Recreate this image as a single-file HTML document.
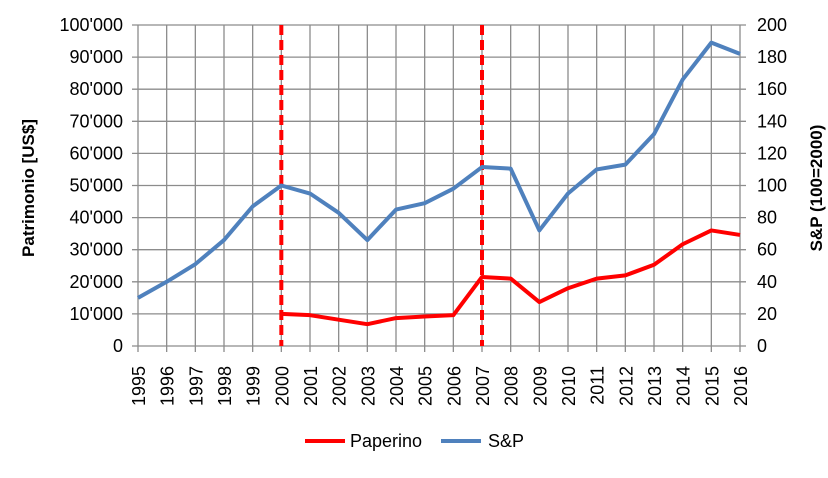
<!DOCTYPE html>
<html><head><meta charset="utf-8"><style>
body{margin:0;background:#fff;font-family:"Liberation Sans",Arial,sans-serif}
svg text{font-family:"Liberation Sans",Arial,sans-serif}
</style></head><body>
<svg id="c" width="828" height="473" xmlns="http://www.w3.org/2000/svg"></svg>
<script>
const years=[1995,1996,1997,1998,1999,2000,2001,2002,2003,2004,2005,2006,2007,2008,2009,2010,2011,2012,2013,2014,2015,2016];
const spValues=[30,40,51,66,87,100,95,83,66,85,89,98,111.5,110.5,72,95,110,113,132,166,189,182];
const paperinoValues=[null,null,null,null,null,10000,9600,8200,6800,8700,9200,9600,21500,21000,13700,18000,21000,22000,25300,31700,36000,34600];
const leftTicks=[0,10000,20000,30000,40000,50000,60000,70000,80000,90000,100000];
const leftTickLabels=["0","10'000","20'000","30'000","40'000","50'000","60'000","70'000","80'000","90'000","100'000"];
const rightTicks=[0,20,40,60,80,100,120,140,160,180,200];
const markerYears=[2000,2007];
const NS="http://www.w3.org/2000/svg";
const svg=document.getElementById('c');
const X0=138,X1=740,Y0=346,Y1=25;
const FS=18;
const x=i=>X0+(X1-X0)*i/(years.length-1);
const xy=yr=>x(years.indexOf(yr));
const yl=v=>Y0-(Y0-Y1)*v/100000;
const yr=v=>Y0-(Y0-Y1)*v/200;
function el(t,a,txt){const e=document.createElementNS(NS,t);for(const k in a)e.setAttribute(k,a[k]);if(txt!=null)e.textContent=txt;svg.appendChild(e);return e;}
leftTicks.forEach((v,i)=>{
 const g=el('line',{x1:X0-6,x2:X1+6,y1:yl(v),y2:yl(v),stroke:'#8c8c8c','stroke-width':1.3});
 
 
 const t=el('text',{x:X0-15,y:yl(v)+6,'text-anchor':'end','font-size':FS,fill:'#000'},leftTickLabels[i]);
 
 
});
rightTicks.forEach(v=>{
 const t=el('text',{x:X1+17,y:yr(v)+6,'text-anchor':'start','font-size':FS,fill:'#000'},String(v));
 
 
});
years.forEach((yv,i)=>{
 const g=el('line',{x1:x(i),x2:x(i),y1:Y1,y2:Y0+6,stroke:'#8c8c8c','stroke-width':1.3});
 
 
 const t=el('text',{x:0,y:0,'text-anchor':'end','font-size':FS,fill:'#000',transform:`translate(${x(i)+7},${Y0+20}) rotate(-90)`},String(yv));
 
 
});
markerYears.forEach(m=>{
 const l=el('line',{x1:xy(m),x2:xy(m),y1:Y1,y2:Y0,stroke:'#ff0000','stroke-width':4,'stroke-dasharray':'10,5'});
 
 
});
const sp=el('polyline',{points:spValues.map((v,i)=>x(i)+','+yr(v)).join(' '),fill:'none',stroke:'#4f81bd','stroke-width':4,'stroke-linejoin':'round'});


const pp=el('polyline',{points:paperinoValues.map((v,i)=>v==null?null:x(i)+','+yl(v)).filter(p=>p).join(' '),fill:'none',stroke:'#ff0000','stroke-width':4,'stroke-linejoin':'round'});


const lt=el('text',{x:0,y:0,'text-anchor':'middle','font-size':17,'font-weight':'bold',transform:'translate(34,188) rotate(-90)'},'Patrimonio [US$]');


const rt=el('text',{x:0,y:0,'text-anchor':'middle','font-size':17,'font-weight':'bold',transform:'translate(822,188) rotate(-90)'},'S&P (100=2000)');


const l1=el('line',{x1:305,x2:345,y1:441,y2:441,stroke:'#ff0000','stroke-width':4});


const t1=el('text',{x:350,y:447,'font-size':FS},'Paperino');


const l2=el('line',{x1:441,x2:481,y1:441,y2:441,stroke:'#4f81bd','stroke-width':4});


const t2=el('text',{x:488,y:447,'font-size':FS},'S&P');


</script>
</body></html>
